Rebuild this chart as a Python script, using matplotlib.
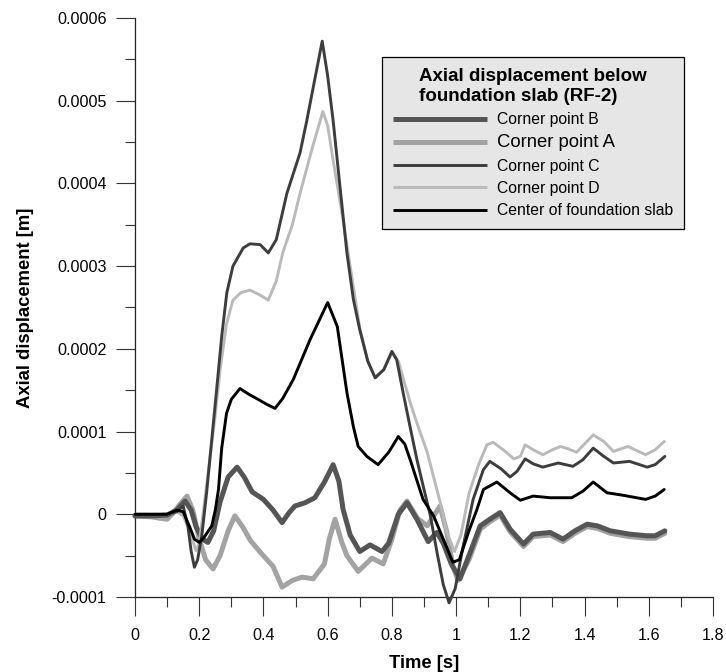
import numpy as np
import matplotlib
matplotlib.use("Agg")
import matplotlib.pyplot as plt
from matplotlib.ticker import MultipleLocator

plt.rcParams['font.family'] = ['Liberation Sans', 'DejaVu Sans']

# ---------------- data (time [s], axial displacement [m]) ----------------
t_B = [0, 0.05, 0.1, 0.13, 0.156, 0.175, 0.19, 0.21, 0.227, 0.245, 0.265, 0.29, 0.318, 0.34,
       0.365, 0.4, 0.43, 0.458, 0.48, 0.498, 0.53, 0.56, 0.59, 0.617, 0.635, 0.648, 0.67, 0.70,
       0.732, 0.769, 0.79, 0.82, 0.847, 0.878, 0.913, 0.94, 0.96, 0.985, 1.012, 1.04, 1.075,
       1.105, 1.137, 1.168, 1.21, 1.24, 1.293, 1.333, 1.37, 1.408, 1.44, 1.48, 1.54, 1.595,
       1.62, 1.65]
y_B = [-0.2e-5, -0.2e-5, -0.1e-5, 0.5e-5, 1.6e-5, 0.5e-5, -1.5e-5, -3.0e-5, -3.4e-5, -2.0e-5,
       1.5e-5, 4.5e-5, 5.7e-5, 4.5e-5, 2.7e-5, 1.8e-5, 0.5e-5, -1.0e-5, 0.2e-5, 1.0e-5, 1.4e-5,
       2.0e-5, 3.9e-5, 6.0e-5, 4.0e-5, 0.6e-5, -2.5e-5, -4.5e-5, -3.7e-5, -4.5e-5, -3.5e-5,
       0.0, 1.4e-5, -0.6e-5, -3.3e-5, -2.2e-5, -3.5e-5, -6.0e-5, -7.8e-5, -5.0e-5, -1.4e-5,
       -0.6e-5, 0.2e-5, -1.8e-5, -3.6e-5, -2.4e-5, -2.2e-5, -3.0e-5, -2.0e-5, -1.2e-5, -1.4e-5,
       -2.0e-5, -2.4e-5, -2.6e-5, -2.6e-5, -2.0e-5]

t_A = [0, 0.05, 0.08, 0.1, 0.12, 0.14, 0.162, 0.18, 0.2, 0.22, 0.243, 0.265, 0.29, 0.311,
       0.335, 0.36, 0.395, 0.43, 0.458, 0.49, 0.52, 0.555, 0.59, 0.605, 0.623, 0.645, 0.66,
       0.695, 0.738, 0.773, 0.80, 0.825, 0.847, 0.88, 0.91, 0.95, 0.97, 0.99, 1.006, 1.04,
       1.075, 1.105, 1.137, 1.168, 1.21, 1.24, 1.293, 1.333, 1.37, 1.408, 1.44, 1.48, 1.54,
       1.595, 1.62, 1.65]
y_A = [-0.2e-5, -0.3e-5, -0.5e-5, -0.6e-5, 0.2e-5, 1.2e-5, 2.2e-5, 0.5e-5, -3.0e-5, -5.5e-5,
       -6.6e-5, -5.0e-5, -2.0e-5, -0.2e-5, -1.5e-5, -3.2e-5, -4.8e-5, -6.3e-5, -8.8e-5, -8.0e-5,
       -7.6e-5, -7.8e-5, -6.0e-5, -3.0e-5, -0.6e-5, -3.5e-5, -5.0e-5, -6.9e-5, -5.3e-5, -6.0e-5,
       -3.0e-5, 0.5e-5, 1.6e-5, -0.5e-5, -1.4e-5, 1.0e-5, -2.0e-5, -6.3e-5, -8.0e-5, -5.5e-5,
       -1.8e-5, -0.9e-5, -0.1e-5, -2.1e-5, -3.9e-5, -2.7e-5, -2.5e-5, -3.3e-5, -2.3e-5, -1.5e-5,
       -1.7e-5, -2.3e-5, -2.7e-5, -2.9e-5, -2.9e-5, -2.3e-5]

t_C = [0, 0.05, 0.1, 0.13, 0.15, 0.165, 0.175, 0.185, 0.195, 0.208, 0.223, 0.243, 0.258, 0.27,
       0.286, 0.305, 0.337, 0.358, 0.39, 0.415, 0.44, 0.473, 0.514, 0.535, 0.555, 0.583, 0.6,
       0.617, 0.64, 0.66, 0.68, 0.70, 0.725, 0.748, 0.775, 0.80, 0.815, 0.835, 0.857, 0.878,
       0.90, 0.92, 0.94, 0.96, 0.978, 0.997, 1.02, 1.053, 1.085, 1.105, 1.14, 1.168, 1.19,
       1.215, 1.24, 1.27, 1.318, 1.364, 1.395, 1.427, 1.46, 1.49, 1.54, 1.595, 1.62, 1.65]
y_C = [0.0, 0.0, 0.0, 0.3e-5, 1.0e-5, -1.5e-5, -4.5e-5, -6.4e-5, -5.5e-5, -2.6e-5, 2.6e-5,
       10.6e-5, 16.6e-5, 21.5e-5, 26.8e-5, 30.0e-5, 32.2e-5, 32.7e-5, 32.6e-5, 31.6e-5, 33.2e-5,
       38.8e-5, 43.7e-5, 47.6e-5, 51.6e-5, 57.2e-5, 53.0e-5, 47.6e-5, 39.0e-5, 31.6e-5, 26.0e-5,
       22.3e-5, 18.5e-5, 16.5e-5, 17.5e-5, 19.7e-5, 18.7e-5, 14.7e-5, 10.5e-5, 6.6e-5, 3.0e-5,
       -0.2e-5, -4.5e-5, -8.5e-5, -10.7e-5, -9.0e-5, -4.2e-5, 1.8e-5, 5.4e-5, 6.4e-5, 5.5e-5,
       4.5e-5, 5.2e-5, 6.7e-5, 6.1e-5, 5.7e-5, 6.2e-5, 5.8e-5, 6.6e-5, 8.0e-5, 7.0e-5, 6.2e-5,
       6.4e-5, 5.7e-5, 6.0e-5, 7.0e-5]

t_D = [0, 0.05, 0.1, 0.13, 0.15, 0.17, 0.19, 0.2, 0.215, 0.234, 0.25, 0.265, 0.285, 0.305,
       0.33, 0.358, 0.385, 0.415, 0.44, 0.46, 0.49, 0.514, 0.55, 0.585, 0.6, 0.617, 0.648,
       0.67, 0.70, 0.725, 0.748, 0.775, 0.80, 0.82, 0.84, 0.857, 0.88, 0.91, 0.95, 0.97,
       0.995, 1.015, 1.04, 1.07, 1.096, 1.115, 1.15, 1.18, 1.2, 1.215, 1.24, 1.27, 1.3,
       1.325, 1.35, 1.375, 1.4, 1.427, 1.46, 1.49, 1.535, 1.59, 1.62, 1.648]
y_D = [0.0, 0.0, 0.0, 0.3e-5, -0.2e-5, -2.0e-5, -4.4e-5, -3.5e-5, 1.0e-5, 7.0e-5, 12.0e-5,
       17.5e-5, 23.0e-5, 25.9e-5, 26.8e-5, 27.1e-5, 26.6e-5, 25.9e-5, 28.2e-5, 31.6e-5, 35.0e-5,
       38.8e-5, 44.0e-5, 48.7e-5, 47.0e-5, 42.8e-5, 35.6e-5, 30.0e-5, 22.5e-5, 18.5e-5, 16.5e-5,
       17.5e-5, 19.5e-5, 18.5e-5, 15.8e-5, 13.5e-5, 10.8e-5, 7.5e-5, 1.5e-5, -2.0e-5, -4.5e-5,
       -2.5e-5, 2.5e-5, 6.0e-5, 8.4e-5, 8.7e-5, 7.7e-5, 6.7e-5, 7.0e-5, 8.4e-5, 7.8e-5, 7.2e-5,
       7.8e-5, 8.2e-5, 7.9e-5, 7.5e-5, 8.5e-5, 9.6e-5, 8.8e-5, 7.6e-5, 8.2e-5, 7.2e-5, 7.8e-5,
       8.8e-5]

t_M = [0, 0.05, 0.1, 0.13, 0.15, 0.17, 0.185, 0.2, 0.215, 0.239, 0.25, 0.26, 0.27, 0.285, 0.30,
       0.327, 0.355, 0.383, 0.41, 0.436, 0.46, 0.493, 0.545, 0.6, 0.63, 0.645, 0.66, 0.68,
       0.695, 0.722, 0.757, 0.79, 0.82, 0.84, 0.857, 0.897, 0.93, 0.96, 0.99, 1.01, 1.04,
       1.065, 1.085, 1.127, 1.168, 1.2, 1.24, 1.293, 1.36, 1.395, 1.427, 1.47, 1.52, 1.59,
       1.62, 1.648]
y_M = [0.0, 0.0, 0.0, 0.5e-5, 0.3e-5, -1.5e-5, -3.0e-5, -3.4e-5, -2.8e-5, -1.4e-5, 0.5e-5,
       3.0e-5, 8.0e-5, 12.2e-5, 13.9e-5, 15.2e-5, 14.5e-5, 13.9e-5, 13.3e-5, 12.8e-5, 14.0e-5,
       16.3e-5, 21.1e-5, 25.6e-5, 22.7e-5, 18.7e-5, 14.7e-5, 10.6e-5, 8.2e-5, 7.0e-5, 6.0e-5,
       7.5e-5, 9.4e-5, 8.5e-5, 6.6e-5, 1.8e-5, -0.2e-5, -3.0e-5, -5.8e-5, -5.5e-5, -2.0e-5,
       0.6e-5, 3.0e-5, 3.9e-5, 2.6e-5, 1.7e-5, 2.2e-5, 2.0e-5, 2.0e-5, 2.8e-5, 3.9e-5, 2.6e-5,
       2.3e-5, 1.8e-5, 2.2e-5, 3.0e-5]

labels = ["Corner point B", "Corner point A", "Corner point C", "Corner point D",
          "Center of foundation slab"]
legend_title = "Axial displacement below\nfoundation slab (RF-2)"

x_ticks = [0, 0.2, 0.4, 0.6, 0.8, 1.0, 1.2, 1.4, 1.6, 1.8]
x_ticklabels = ["0", "0.2", "0.4", "0.6", "0.8", "1", "1.2", "1.4", "1.6", "1.8"]
y_ticks = [-0.0001, 0, 0.0001, 0.0002, 0.0003, 0.0004, 0.0005, 0.0006]
y_ticklabels = ["-0.0001", "0", "0.0001", "0.0002", "0.0003", "0.0004", "0.0005", "0.0006"]

# ---------------- figure ----------------
fig = plt.figure(figsize=(7.26, 6.72), dpi=100)
ax = fig.add_axes([135 / 726, 75 / 672, 578 / 726, 579 / 672])

kw = dict(solid_joinstyle='round', solid_capstyle='round', clip_on=False)
lA, = ax.plot(t_A, y_A, color='#a3a3a3', lw=3.6, label=labels[1], zorder=2, **kw)
lB, = ax.plot(t_B, y_B, color='#555555', lw=3.6, label=labels[0], zorder=3, **kw)
lD, = ax.plot(t_D, y_D, color='#bababa', lw=2.1, label=labels[3], zorder=4, **kw)
lC, = ax.plot(t_C, y_C, color='#3d3d3d', lw=2.1, label=labels[2], zorder=5, **kw)
lM, = ax.plot(t_M, y_M, color='#000000', lw=2.1, label=labels[4], zorder=6, **kw)

ax.set_xlim(0, 1.8)
ax.set_ylim(-0.0001, 0.0006)
ax.set_xticks(x_ticks)
ax.set_xticklabels(x_ticklabels)
ax.set_yticks(y_ticks)
ax.set_yticklabels(y_ticklabels)
ax.xaxis.set_minor_locator(MultipleLocator(0.1))
ax.yaxis.set_minor_locator(MultipleLocator(0.00005))

for s in ['top', 'right']:
    ax.spines[s].set_visible(False)
for s in ['left', 'bottom']:
    ax.spines[s].set_linewidth(0.9)
    ax.spines[s].set_color('#222222')

ax.tick_params(which='major', direction='out', length=13.5, width=0.8, color='#333333',
               labelsize=11.6)
ax.tick_params(which='minor', direction='out', length=7.5, width=0.8, color='#333333')
ax.tick_params(axis='x', which='major', pad=8.5)
ax.tick_params(axis='y', which='major', pad=7)

ax.set_xlabel("Time [s]", fontsize=13.3, fontweight='bold', labelpad=9)
ax.set_ylabel("Axial displacement [m]", fontsize=13.3, fontweight='bold', labelpad=13)

leg = ax.legend(handles=[lB, lA, lC, lD, lM], labels=labels, title=legend_title,
                loc='upper left', bbox_to_anchor=(382 / 726, 1 - 57 / 672),
                bbox_transform=fig.transFigure, borderaxespad=0,
                fontsize=11.3, title_fontproperties={'weight': 'bold', 'size': 13.5},
                frameon=True, fancybox=False, framealpha=1, facecolor='#e6e6e6',
                edgecolor='#000000', handlelength=6.0, handletextpad=0.6,
                labelspacing=0.46, borderpad=0.72)
leg.get_frame().set_linewidth(0.9)
leg.get_title().set_multialignment('left')
leg.get_texts()[1].set_fontsize(13.3)
for h in leg.legend_handles:
    h.set_solid_capstyle('butt')

fig.savefig("out.png", dpi=100)
